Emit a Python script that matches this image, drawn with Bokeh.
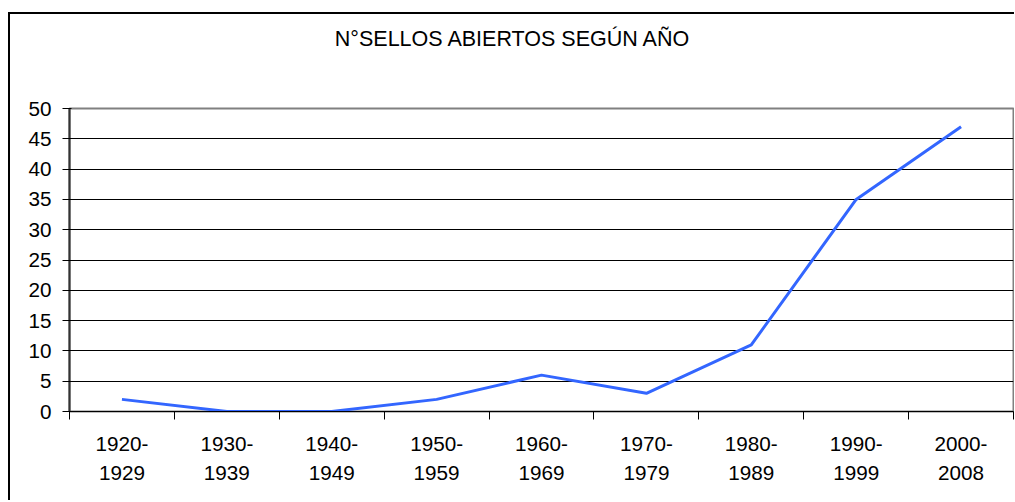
from bokeh.plotting import figure
from bokeh.models import Range1d, FixedTicker, Div
from bokeh.layouts import column
from bokeh.embed import file_html
from bokeh.resources import INLINE

categories = ["1920-\n1929", "1930-\n1939", "1940-\n1949", "1950-\n1959", "1960-\n1969",
              "1970-\n1979", "1980-\n1989", "1990-\n1999", "2000-\n2008"]
values = [2, 0, 0, 2, 6, 3, 11, 35, 47]
y_ticks = list(range(0, 55, 5))
title_text = "N°SELLOS ABIERTOS SEGÚN AÑO"

FONT = "Liberation Sans"
FS = "20.7px"
n = len(categories)
xs = [i + 0.5 for i in range(n)]

p = figure(width=1004, height=426, output_backend="svg", toolbar_location=None,
           x_range=Range1d(0, n), y_range=Range1d(0, 50),
           min_border_left=59, min_border_right=1, min_border_top=34, min_border_bottom=89)
p.margin = (0, 0, 0, 0)

p.line(xs, values, line_color="#3366FF", line_width=3)

# x axis: labels centred in categories, ticks at category boundaries
p.xaxis.ticker = FixedTicker(ticks=xs, minor_ticks=list(range(n + 1)))
p.xaxis.major_label_overrides = {x: c for x, c in zip(xs, categories)}
p.xaxis.major_tick_line_color = None
p.xaxis.major_tick_out = 0
p.xaxis.minor_tick_out = 8
p.xaxis.minor_tick_in = 0
p.xaxis.minor_tick_line_color = "black"
p.xaxis.axis_line_color = "black"
p.xaxis.axis_line_width = 1
p.xaxis.major_label_standoff = 12
p.xaxis.major_label_text_font = FONT
p.xaxis.major_label_text_font_size = FS
p.xaxis.major_label_text_line_height = 1.3
p.xaxis.major_label_text_color = "black"

# y axis
p.yaxis.ticker = FixedTicker(ticks=y_ticks)
p.yaxis.minor_tick_line_color = None
p.yaxis.major_tick_out = 7
p.yaxis.major_tick_in = 2
p.yaxis.major_tick_line_color = "black"
p.yaxis.axis_line_color = "#333333"
p.yaxis.axis_line_width = 2
p.yaxis.major_label_standoff = 11
p.yaxis.major_label_text_font = FONT
p.yaxis.major_label_text_font_size = FS
p.yaxis.major_label_text_color = "black"

p.xgrid.grid_line_color = None
p.ygrid.ticker = FixedTicker(ticks=y_ticks)
p.ygrid.grid_line_color = "black"
p.ygrid.grid_line_width = 1

p.outline_line_color = "#808080"
p.outline_line_width = 2

title = Div(text=f'<div style="font-family:\'Liberation Sans\';font-size:21.5px;width:1004px;'
                 f'text-align:center;padding-top:15px;line-height:1;color:black;">{title_text}</div>',
            width=1004, height=60, margin=(0, 0, 0, 0))

layout = column(title, p, spacing=0,
                styles={"border-left": "2px solid black", "border-top": "2px solid black",
                        "margin-left": "8px", "margin-top": "12px"})

open("out.html", "w").write(file_html(layout, INLINE))
